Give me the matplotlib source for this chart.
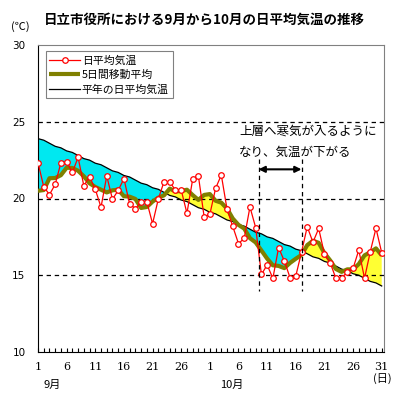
import matplotlib
matplotlib.use('Agg')
import matplotlib.pyplot as plt
import numpy as np
import pandas as pd

plt.rcParams['font.family'] = ['Noto Sans CJK JP', 'DejaVu Sans']

days = np.arange(1, 62)
daily = [22.33, 20.77, 20.25, 20.92, 22.33, 22.40, 21.70, 22.68, 20.83, 21.42,
         20.60, 19.43, 21.47, 19.95, 20.53, 21.29, 19.64, 19.34, 19.79, 19.79,
         18.36, 19.96, 21.10, 21.06, 20.55, 20.55, 19.04, 21.25, 21.47, 18.81,
         18.97, 20.66, 21.53, 19.30, 18.18, 17.06, 17.41, 19.45, 18.10, 15.05,
         15.67, 14.80, 16.80, 15.93, 14.84, 14.95, 16.50, 18.16, 17.15, 18.05,
         16.38, 15.82, 14.80, 14.80, 15.23, 15.45, 16.64, 14.80, 16.53, 18.06,
         16.47]
normal = [23.9, 23.8, 23.6, 23.4, 23.3, 23.1, 23.0, 22.8, 22.6, 22.5,
          22.3, 22.2, 22.0, 21.8, 21.7, 21.5, 21.4, 21.2, 21.0, 20.9,
          20.7, 20.6, 20.4, 20.2, 20.1, 19.9, 19.8, 19.6, 19.4, 19.3,
          19.1, 19.0, 18.8, 18.6, 18.5, 18.3, 18.2, 18.0, 17.8, 17.7,
          17.5, 17.4, 17.2, 17.0, 16.9, 16.7, 16.6, 16.4, 16.2, 16.1,
          15.9, 15.8, 15.6, 15.4, 15.3, 15.1, 15.0, 14.8, 14.6, 14.5,
          14.3]
# moving-average values at the ends (use data outside the period)
ma_head = [20.50, 20.55]
ma_tail = [16.75, 16.30]

xtick_days = [1, 6, 11, 16, 21, 26, 31, 36, 41, 46, 51, 56, 61]
xtick_labels = ['1', '6', '11', '16', '21', '26', '1', '6', '11', '16', '21', '26', '31']
yticks = [10, 15, 20, 25, 30]

title = '日立市役所における9月から10月の日平均気温の推移'
legend_labels = ['日平均気温', '5日間移動平均', '平年の日平均気温']
note_lines = ['上層へ寒気が入るように', 'なり、気温が下がる']
period = [39.5, 47.0]

daily_a = np.array(daily)
normal_a = np.array(normal)
ma = pd.Series(daily_a).rolling(5, center=True).mean().to_numpy()
ma[:2] = ma_head
ma[-2:] = ma_tail

fig = plt.figure(figsize=(4, 4), dpi=100)
ax = fig.add_axes([38/400, 1-352/400, 346/400, 307/400])

ax.fill_between(days, normal_a, ma, where=normal_a >= ma, interpolate=True,
                color='#00E8F0', lw=0, zorder=1)
ax.fill_between(days, normal_a, ma, where=ma >= normal_a, interpolate=True,
                color='#FFFF33', lw=0, zorder=1)

for yv in [15, 20, 25]:
    ax.axhline(yv, color='black', lw=0.9, ls=(0, (3.5, 3)), zorder=2)

ln_norm, = ax.plot(days, normal_a, color='black', lw=0.9, zorder=3)
ln_ma, = ax.plot(days, ma, color='#808000', lw=3, zorder=4, solid_capstyle='butt')
ln_day, = ax.plot(days, daily_a, color='red', lw=0.9, marker='o', ms=4,
                  mfc='white', mec='red', mew=0.9, zorder=5)

for xv in period:
    ax.plot([xv, xv], [22.6, 14.0], color='black', lw=0.9, ls=(0, (3.5, 3)), zorder=6)
ax.annotate('', xy=(period[0], 21.9), xytext=(period[1], 21.9),
            arrowprops=dict(arrowstyle='<|-|>', color='black', lw=1.5,
                            mutation_scale=9, shrinkA=0, shrinkB=0), zorder=7)
fig.text(239/400, 1-131/400, note_lines[0], fontsize=9, ha='left', va='center')
fig.text(239/400, 1-152/400, note_lines[1], fontsize=9, ha='left', va='center')

ax.set_xlim(1, 61.4)
ax.set_ylim(10, 30)
ax.set_yticks(yticks)
ax.set_yticklabels([str(v) for v in yticks], fontsize=7.5, family='DejaVu Sans')
ax.tick_params(axis='y', length=0, pad=9)
ax.set_xticks(xtick_days)
ax.set_xticklabels(xtick_labels, fontsize=8, family='DejaVu Serif')
ax.set_xticks(days, minor=True)
ax.tick_params(axis='x', which='both', direction='in', length=3, width=0.8, pad=7)

for s in ['top', 'right']:
    ax.spines[s].set_color('#808080')
for s in ['left', 'bottom']:
    ax.spines[s].set_color('black')

leg = ax.legend([ln_day, ln_ma, ln_norm], legend_labels, loc='upper left',
                bbox_to_anchor=(0.022, 0.98), fontsize=7.8, fancybox=False,
                edgecolor='#808080', framealpha=1, handlelength=2.8,
                borderpad=0.35, labelspacing=0.4, handletextpad=0.2, borderaxespad=0)
leg.get_frame().set_linewidth(0.8)

fig.text(204/400, 1-20/400, title, fontsize=9.7, weight='bold', ha='center', va='center')
fig.text(20/400, 1-27/400, '(℃)', fontsize=8, ha='center', va='center')
fig.text(52/400, 1-385/400, '9月', fontsize=8, ha='center', va='center')
fig.text(232/400, 1-385/400, '10月', fontsize=8, ha='center', va='center')
fig.text(382/400, 1-379/400, '(日)', fontsize=8, ha='center', va='center')

fig.savefig('out.png', dpi=100)
